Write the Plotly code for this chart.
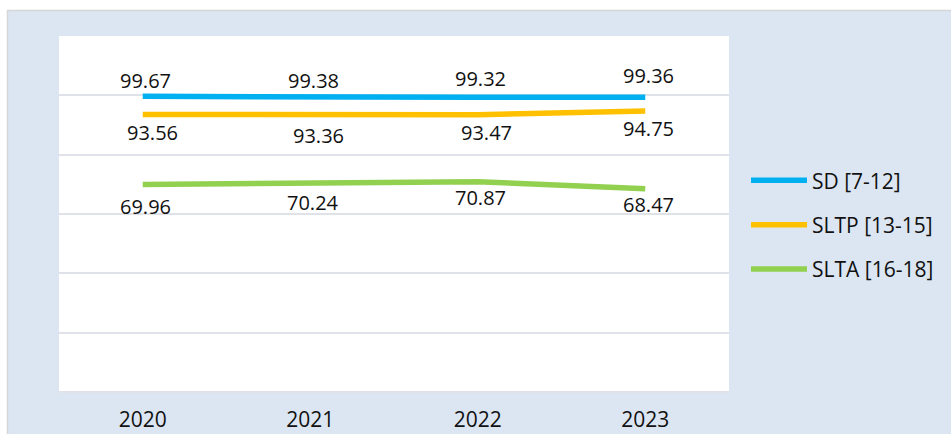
import plotly.graph_objects as go

years = ["2020", "2021", "2022", "2023"]
series_names = ["SD [7-12]", "SLTP [13-15]", "SLTA [16-18]"]
sd_values = [99.67, 99.38, 99.32, 99.36]
sltp_values = [93.56, 93.36, 93.47, 94.75]
slta_values = [69.96, 70.24, 70.87, 68.47]

colors = ["#00b0f0", "#ffc000", "#92d050"]
# label offsets (px, positive = up) per series / point
label_yshift = [
    [16, 17, 19, 22],
    [-18, -20, -18, -18],
    [-22, -19, -16, -16],
]
label_xshift = [
    [3, 3, 3, 3],
    [10, 8, 9, 3],
    [3, 3, 3, 3],
]

W, H = 951, 434
L, R, T, B = 59, 222, 36, 42
pw, ph = W - L - R, H - T - B

FONT = "Open Sans"
fig = go.Figure()
all_values = [sd_values, sltp_values, slta_values]
for i, (name, vals) in enumerate(zip(series_names, all_values)):
    fig.add_trace(go.Scatter(
        x=years, y=vals, mode="lines", name=name,
        line=dict(color=colors[i], width=5.5),
        legendgroup=name, hoverinfo="skip",
    ))
    for j, v in enumerate(vals):
        fig.add_annotation(
            x=j, y=v, xref="x", yref="y", text=f"{v:.2f}",
            showarrow=False, yshift=label_yshift[i][j], xshift=label_xshift[i][j],
            font=dict(family=FONT, size=20, color="#111111"),
        )

def px_x(p):
    return (p - L) / pw

def px_y(p):
    return (H - B - p) / ph

# white page margin at top and left, with thin grey border
fig.add_shape(type="rect", xref="paper", yref="paper", layer="below",
              x0=px_x(0), x1=px_x(W), y0=px_y(10), y1=px_y(0),
              fillcolor="white", line=dict(width=0))
fig.add_shape(type="rect", xref="paper", yref="paper", layer="below",
              x0=px_x(0), x1=px_x(7), y0=px_y(H), y1=px_y(0),
              fillcolor="white", line=dict(width=0))
fig.add_shape(type="line", xref="paper", yref="paper", layer="below",
              x0=px_x(7), x1=px_x(W), y0=px_y(10.5), y1=px_y(10.5),
              line=dict(color="#d6d6d6", width=1.5))
fig.add_shape(type="line", xref="paper", yref="paper", layer="below",
              x0=px_x(7.5), x1=px_x(7.5), y0=px_y(10), y1=px_y(H),
              line=dict(color="#d6d6d6", width=1.5))

fig.update_layout(
    width=W, height=H,
    margin=dict(l=L, r=R, t=T, b=B, autoexpand=False),
    paper_bgcolor="#dce6f2",
    plot_bgcolor="white",
    font=dict(family=FONT, size=20, color="#111111"),
    showlegend=True,
    legend=dict(
        x=px_x(746), y=0.47, xanchor="left", yanchor="middle",
        bgcolor="rgba(0,0,0,0)", font=dict(family=FONT, size=21, color="#111111"),
        tracegroupgap=14, traceorder="grouped", itemwidth=56,
    ),
    xaxis=dict(
        type="category", range=[-0.5, len(years) - 0.5],
        showgrid=False, zeroline=False, showline=False, automargin=False,
        ticks="", tickfont=dict(family=FONT, size=21, color="#111111"),
        ticklabelstandoff=13, fixedrange=True,
    ),
    yaxis=dict(
        range=[0, 120], dtick=20, showticklabels=False, ticks="",
        showgrid=True, gridcolor="#dfe3e9", gridwidth=2, automargin=False,
        zeroline=True, zerolinecolor="#dfe3e9", zerolinewidth=2,
        showline=False, fixedrange=True,
    ),
)

fig.write_html(
    "out.html",
    config={"displayModeBar": False, "staticPlot": True},
    post_script="document.body.style.margin='0';document.body.style.overflow='hidden';",
)
